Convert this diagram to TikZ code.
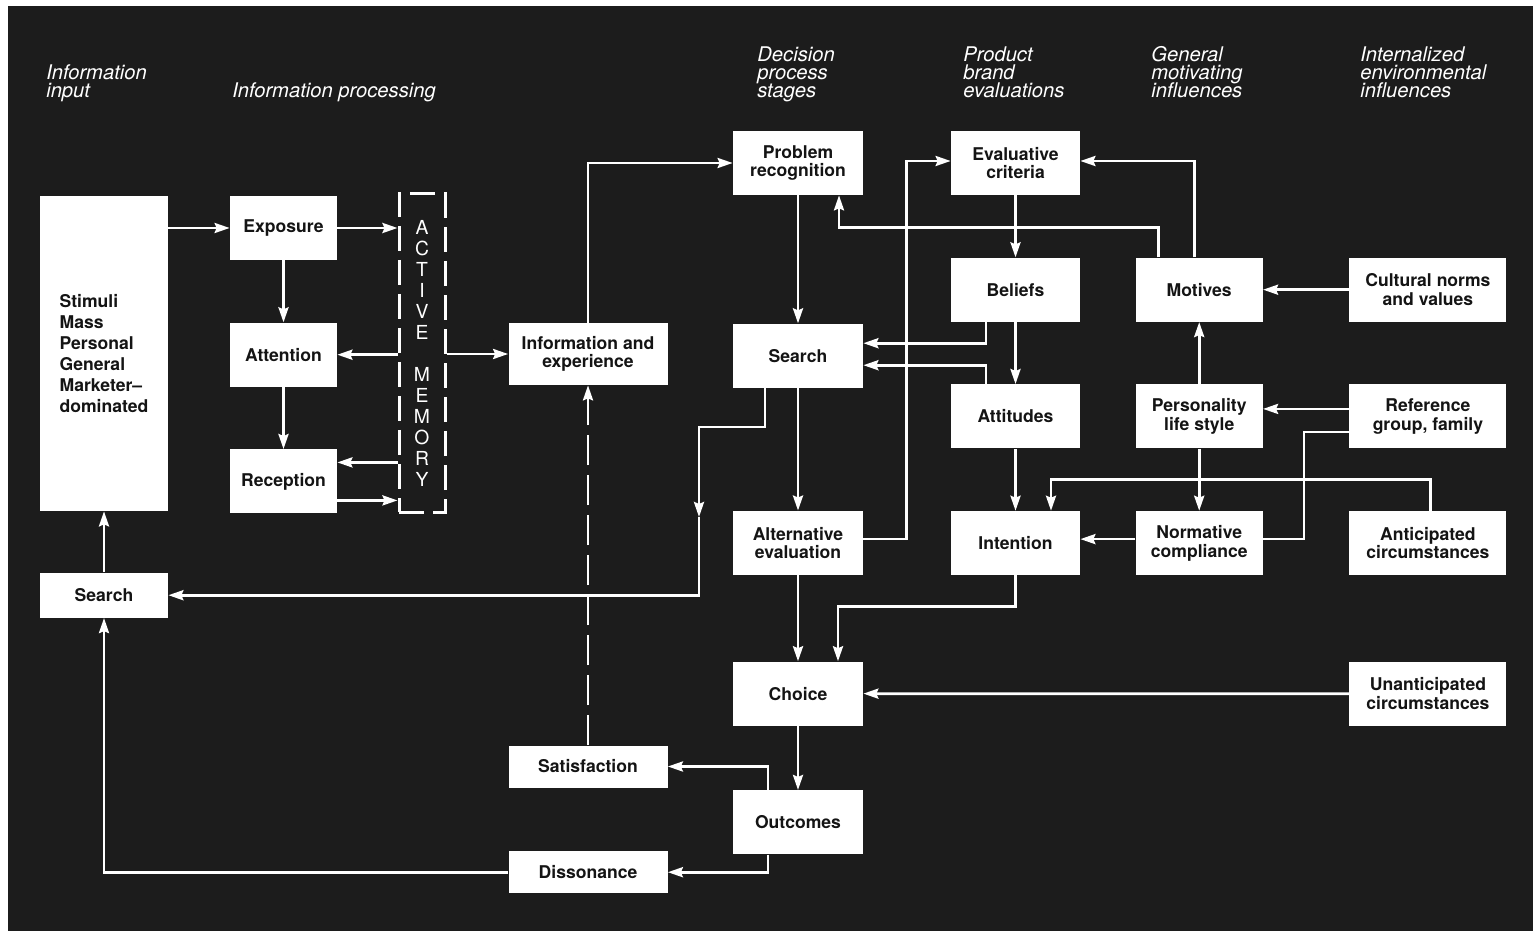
\documentclass[tikz,border=0pt]{standalone}
\usepackage{fontspec}
\setmainfont{TeX Gyre Heros}
\usetikzlibrary{positioning,calc,arrows.meta}

\definecolor{bgdark}{RGB}{28,28,28}
\definecolor{inkdark}{RGB}{20,20,20}
\newcommand{\tightlines}{\lineskiplimit=-10pt\relax}

\begin{document}
\begin{tikzpicture}[
    x=0.2mm,
    y=-0.2mm,
    >={Stealth[length=3mm,width=2mm,inset=0.4mm]},
    link/.style={
        draw=white,
        line width=0.55mm
    },
    box/.style={
        fill=white,
        text=inkdark,
        font=\bfseries\fontsize{10}{10.6}\selectfont\tightlines,
        align=center,
        inner sep=1pt,
        minimum height=12.8mm
    },
    stagebox/.style={box, minimum width=26mm},
    evalbox/.style={box, minimum width=25.8mm},
    motivebox/.style={box, minimum width=25.4mm},
    envbox/.style={box, minimum width=31.4mm},
    procbox/.style={box, minimum width=21.4mm},
    widebox/.style={box, minimum width=31.8mm},
    memory/.style={
        draw=white,
        line width=0.6mm,
        dash pattern=on 5mm off 1.8mm,
        minimum width=9.2mm,
        minimum height=63.6mm,
        text=white,
        font=\fontsize{11}{11.95}\selectfont,
        align=center,
        inner sep=0pt
    },
    heading/.style={
        text=white,
        font=\itshape\fontsize{11.5}{10.4}\selectfont\tightlines,
        align=left,
        anchor=base west,
        inner sep=0pt
    }
]

%%%%%%%%%%%%%%%%%%%%%%%%%%%%%%%%%%%%%%%%%%%%%%%%%%%%
%% Background
%%%%%%%%%%%%%%%%%%%%%%%%%%%%%%%%%%%%%%%%%%%%%%%%%%%%

\fill[white] (0,0) rectangle (1533,931);
\fill[bgdark] (8,6) rectangle (1533,931);
\useasboundingbox (0,0) rectangle (1533,931);

%%%%%%%%%%%%%%%%%%%%%%%%%%%%%%%%%%%%%%%%%%%%%%%%%%%%
%% Column headings
%%%%%%%%%%%%%%%%%%%%%%%%%%%%%%%%%%%%%%%%%%%%%%%%%%%%

\node[heading] (hdinput) at (46,98) {Information\\input};
\node[heading] (hdproc) at (232,98) {Information processing};
\node[heading] (hddecision) at (757,98) {Decision\\process\\stages};
\node[heading] (hdproduct) at (963,98) {Product\\brand\\evaluations};
\node[heading] (hdmotive) at (1151,98) {General\\motivating\\influences};
\node[heading] (hdenv) at (1360,98) {Internalized\\environmental\\influences};

%%%%%%%%%%%%%%%%%%%%%%%%%%%%%%%%%%%%%%%%%%%%%%%%%%%%
%% Information input
%%%%%%%%%%%%%%%%%%%%%%%%%%%%%%%%%%%%%%%%%%%%%%%%%%%%

\node[
    box,
    minimum width=25.6mm,
    minimum height=63mm,
    align=left,
    font=\bfseries\fontsize{10}{11.95}\selectfont
] (stimuli) at (104,353.5)
{Stimuli\\Mass\\Personal\\General\\Marketer--\\dominated};

\node[box,minimum width=25.6mm,minimum height=9mm,below=12.2mm of stimuli] (extsearch)
{Search};

%%%%%%%%%%%%%%%%%%%%%%%%%%%%%%%%%%%%%%%%%%%%%%%%%%%%
%% Information processing
%%%%%%%%%%%%%%%%%%%%%%%%%%%%%%%%%%%%%%%%%%%%%%%%%%%%

\node[procbox] (exposure) at (283.5,228) {Exposure};
\node[procbox,below=12.4mm of exposure] (attention) {Attention};
\node[procbox,below=12.4mm of attention] (reception) {Reception};

\node[memory] (actmem) at (422,353)
{A\\C\\T\\I\\V\\E\\[11.95pt]M\\E\\M\\O\\R\\Y};

\node[widebox,minimum height=12.4mm] (infoexp) at (588,354)
{Information and\\experience};

\node[widebox,minimum height=8.4mm] (satisf) at (588,766.5) {Satisfaction};
\node[widebox,minimum height=8.4mm,below=12.6mm of satisf] (dissonance)
{Dissonance};

%%%%%%%%%%%%%%%%%%%%%%%%%%%%%%%%%%%%%%%%%%%%%%%%%%%%
%% Decision process stages
%%%%%%%%%%%%%%%%%%%%%%%%%%%%%%%%%%%%%%%%%%%%%%%%%%%%

\node[stagebox] (probrec) at (798,163) {Problem\\recognition};
\node[stagebox,below=25.6mm of probrec] (search) {Search};
\node[stagebox,below=24.5mm of search] (alteval) {Alternative\\evaluation};
\node[stagebox,below=17.2mm of alteval] (choice) {Choice};
\node[stagebox,below=12.8mm of choice] (outcomes) {Outcomes};

%%%%%%%%%%%%%%%%%%%%%%%%%%%%%%%%%%%%%%%%%%%%%%%%%%%%
%% Product brand evaluations
%%%%%%%%%%%%%%%%%%%%%%%%%%%%%%%%%%%%%%%%%%%%%%%%%%%%

\node[evalbox] (evalcrit) at (1015.5,163) {Evaluative\\criteria};
\node[evalbox,below=12.4mm of evalcrit] (beliefs) {Beliefs};
\node[evalbox,below=12.4mm of beliefs] (attitudes) {Attitudes};
\node[evalbox,below=12.4mm of attitudes] (intention) {Intention};

%%%%%%%%%%%%%%%%%%%%%%%%%%%%%%%%%%%%%%%%%%%%%%%%%%%%
%% General motivating influences
%%%%%%%%%%%%%%%%%%%%%%%%%%%%%%%%%%%%%%%%%%%%%%%%%%%%

\node[motivebox,right=11mm of beliefs] (motives) {Motives};
\node[motivebox,below=12.4mm of motives] (personality) {Personality\\life style};
\node[motivebox,below=12.4mm of personality] (normative) {Normative\\compliance};

%%%%%%%%%%%%%%%%%%%%%%%%%%%%%%%%%%%%%%%%%%%%%%%%%%%%
%% Internalized environmental influences
%%%%%%%%%%%%%%%%%%%%%%%%%%%%%%%%%%%%%%%%%%%%%%%%%%%%

\node[envbox,right=17.2mm of motives] (cultural) {Cultural norms\\and values};
\node[envbox,below=12.4mm of cultural] (reference) {Reference\\group, family};
\node[envbox,below=12.4mm of reference] (anticipated) {Anticipated\\circumstances};
\node[envbox,below=17.2mm of anticipated] (unanticipated) {Unanticipated\\circumstances};

%%%%%%%%%%%%%%%%%%%%%%%%%%%%%%%%%%%%%%%%%%%%%%%%%%%%
%% Information processing arrows
%%%%%%%%%%%%%%%%%%%%%%%%%%%%%%%%%%%%%%%%%%%%%%%%%%%%

\coordinate (memin) at ($(reception.east)+(0,-19)$);
\coordinate (memout) at ($(reception.east)+(0,19)$);

\draw[link,->] (stimuli.east |- exposure.west) -- (exposure.west);
\draw[link,->] (exposure.east) -- (actmem.west |- exposure.east);
\draw[link,->] (exposure) -- (attention);
\draw[link,->] (attention) -- (reception);
\draw[link,->] (actmem.west |- attention.east) -- (attention.east);
\draw[link,->] (actmem.west |- memin) -- (memin);
\draw[link,->] (memout) -- (actmem.west |- memout);
\draw[link,->] (actmem.east |- infoexp.west) -- (infoexp.west);
\draw[link,->] (infoexp) |- (probrec);
\draw[link,->,dash pattern=on 6mm off 2mm] (satisf) -- (infoexp);

%%%%%%%%%%%%%%%%%%%%%%%%%%%%%%%%%%%%%%%%%%%%%%%%%%%%
%% Decision process arrows
%%%%%%%%%%%%%%%%%%%%%%%%%%%%%%%%%%%%%%%%%%%%%%%%%%%%

\draw[link,->] (probrec) -- (search);
\draw[link,->] (search) -- (alteval);
\draw[link,->] (alteval) -- (choice);
\draw[link,->] (choice) -- (outcomes);
\draw[link,->] ($(outcomes.north)+(-30,0)$) |- (satisf.east);
\draw[link,->] ($(outcomes.south)+(-30,0)$) |- (dissonance.east);

\coordinate (srchturn) at (699,427);
\coordinate (srchmid) at (699,517);
\draw[link,->] ($(search.south)+(-33,0)$) |- (srchturn) -- (srchmid);
\draw[link,->] (srchmid) |- (extsearch.east);
\draw[link,->] (extsearch) -- (stimuli);
\draw[link,->] (dissonance.west) -| (extsearch.south);

%%%%%%%%%%%%%%%%%%%%%%%%%%%%%%%%%%%%%%%%%%%%%%%%%%%%
%% Evaluation arrows
%%%%%%%%%%%%%%%%%%%%%%%%%%%%%%%%%%%%%%%%%%%%%%%%%%%%

\draw[link,->] ($(alteval.east)+(0,-4)$) -- ++(43,0)
    |- ($(evalcrit.west)+(0,-2)$);
\draw[link,->] (evalcrit) -- (beliefs);
\draw[link,->] (beliefs) -- (attitudes);
\draw[link,->] (attitudes) -- (intention);
\draw[link,->] ($(beliefs.south)+(-29.5,0)$) |- ($(search.east)+(0,-12.5)$);
\draw[link,->] ($(attitudes.north)+(-29.5,0)$) |- ($(search.east)+(0,9.5)$);
\draw[link,->] (intention.south) -- ++(0,31) -| ($(choice.north)+(40,0)$);

%%%%%%%%%%%%%%%%%%%%%%%%%%%%%%%%%%%%%%%%%%%%%%%%%%%%
%% Motivating influence arrows
%%%%%%%%%%%%%%%%%%%%%%%%%%%%%%%%%%%%%%%%%%%%%%%%%%%%

\draw[link,->] ($(motives.north)+(-40.5,0)$) -- ++(0,-30)
    -| ($(probrec.south)+(41,0)$);
\draw[link,->] ($(motives.north)+(-4.5,0)$) |- ($(evalcrit.east)+(0,-2)$);
\draw[link,->] (personality) -- (motives);
\draw[link,->] (personality) -- (normative);
\draw[link,->] ($(normative.west)+(0,-4)$) -- ($(intention.east)+(0,-4)$);

%%%%%%%%%%%%%%%%%%%%%%%%%%%%%%%%%%%%%%%%%%%%%%%%%%%%
%% Environmental influence arrows
%%%%%%%%%%%%%%%%%%%%%%%%%%%%%%%%%%%%%%%%%%%%%%%%%%%%

\draw[link,->] (cultural) -- (motives);
\draw[link,->] ($(reference.west)+(0,-7.5)$) -- ($(personality.east)+(0,-7.5)$);
\draw[link] ($(reference.west)+(0,15.5)$) -- ++(-45,0)
    |- ($(normative.east)+(0,-4)$);
\draw[link,->] ($(anticipated.north)+(2.5,0)$) -- ++(0,-31)
    -| ($(intention.north)+(35.5,0)$);
\draw[link,->] (unanticipated) -- (choice);

\end{tikzpicture}
\end{document}
